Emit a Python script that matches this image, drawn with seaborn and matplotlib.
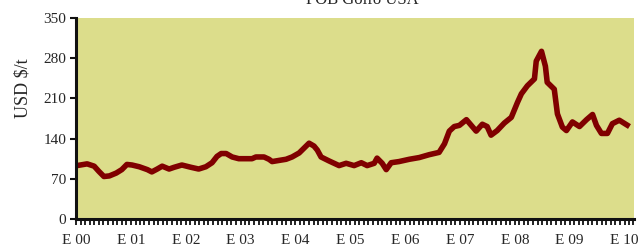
import numpy as np
import pandas as pd
import matplotlib
matplotlib.use("Agg")
import matplotlib.pyplot as plt
import matplotlib.dates as mdates
import seaborn as sns

# FOB Golfo USA, USD $/t
FECHAS = ["2000-01-07", "2000-03-15", "2000-05-01", "2000-06-01", "2000-07-05",
          "2000-08-10", "2000-09-25", "2000-11-01", "2000-12-05", "2001-01-08",
          "2001-02-25", "2001-04-20", "2001-05-20", "2001-06-25", "2001-07-28",
          "2001-09-12", "2001-10-15", "2001-12-06", "2002-02-05", "2002-03-28",
          "2002-05-15", "2002-06-25", "2002-07-28", "2002-08-25", "2002-09-27",
          "2002-11-06", "2002-12-20", "2003-03-18", "2003-04-13", "2003-06-06",
          "2003-07-09", "2003-07-30", "2003-09-14", "2003-10-31", "2003-12-10",
          "2004-01-26", "2004-04-01", "2004-05-04", "2004-05-26", "2004-06-20",
          "2004-08-13", "2004-10-18", "2004-12-04", "2005-01-26", "2005-03-15",
          "2005-04-23", "2005-06-09", "2005-06-28", "2005-08-01", "2005-08-28",
          "2005-09-30", "2005-11-21", "2006-01-29", "2006-04-05", "2006-06-10",
          "2006-08-15", "2006-09-20", "2006-10-22", "2006-11-24", "2006-12-28",
          "2007-02-13", "2007-03-24", "2007-04-19", "2007-05-30", "2007-07-01",
          "2007-07-27", "2007-09-06", "2007-10-23", "2007-12-09", "2008-01-19",
          "2008-02-14", "2008-03-25", "2008-05-11", "2008-05-23", "2008-06-27",
          "2008-07-23", "2008-08-04", "2008-09-20", "2008-10-11", "2008-11-13",
          "2008-12-10", "2009-01-19", "2009-03-07", "2009-04-23", "2009-06-02",
          "2009-06-28", "2009-07-31", "2009-09-09", "2009-10-12", "2009-11-27",
          "2010-02-03"]
PRECIO = [93, 96, 92, 83, 74,
          75, 80, 86, 95, 94,
          91, 86, 82, 87, 92,
          87, 90, 94, 90, 87,
          91, 98, 109, 114, 114,
          108, 105, 105, 108, 108,
          104, 100, 102, 104, 108,
          115, 132, 127, 120, 108,
          101, 93, 97, 93, 98,
          93, 97, 106, 97, 86,
          98, 100, 104, 107, 112,
          116, 131, 153, 161, 163,
          173, 161, 153, 165, 161,
          146, 154, 167, 177, 203,
          218, 232, 244, 275, 292,
          266, 238, 226, 183, 160,
          154, 169, 161, 173, 182,
          163, 149, 149, 166, 172,
          161]
ANIOS = [f"{a}-01-01" for a in range(2000, 2011)]
ETIQ_X = [f"E {a % 100:02d}" for a in range(2000, 2011)]
Y_TICKS = [0, 70, 140, 210, 280, 350]

sns.set_theme(style="ticks")
plt.rcParams.update({"font.family": ["Liberation Serif", "DejaVu Serif"],
                     "axes.unicode_minus": False})

df = pd.DataFrame({"fecha": pd.to_datetime(FECHAS), "precio": PRECIO})

fig = plt.figure(figsize=(6.39, 2.52), dpi=100)
ax = fig.add_axes([76 / 639, 33 / 252, 558 / 639, 201 / 252])
ax.set_facecolor("#dcdd8b")

sns.lineplot(data=df, x="fecha", y="precio", ax=ax, color="#800000", lw=4.0,
             solid_joinstyle="round", solid_capstyle="butt")

ax.set_xlim(pd.Timestamp("2000-01-01"), pd.Timestamp("2010-03-05"))
ax.set_ylim(0, 350)
ax.set_yticks(Y_TICKS)
ax.set_yticklabels([str(v) for v in Y_TICKS], fontsize=11)
ax.set_xticks(pd.to_datetime(ANIOS))
ax.set_xticklabels(ETIQ_X, fontsize=11)
ax.xaxis.set_minor_locator(mdates.MonthLocator())
ax.tick_params(axis="x", which="both", direction="out", length=4, width=1.3,
               color="#111111", pad=7)
ax.tick_params(axis="y", direction="out", length=4, width=1.5, color="#111111", pad=3)

for s in ["top", "right"]:
    ax.spines[s].set_visible(False)
for s in ["left", "bottom"]:
    ax.spines[s].set_linewidth(2.2)
    ax.spines[s].set_color("#111111")

ax.set_xlabel("")
ax.set_ylabel("USD $/t", fontsize=13)
ax.yaxis.set_label_coords(-0.08, 0.65)
ax.grid(False)

# el título queda recortado en el borde superior, como en el original
fig.text(362 / 639, 1 - 4 / 252, "FOB Golfo USA", ha="center", va="baseline",
         fontsize=12)

fig.savefig("out.png", dpi=100)
